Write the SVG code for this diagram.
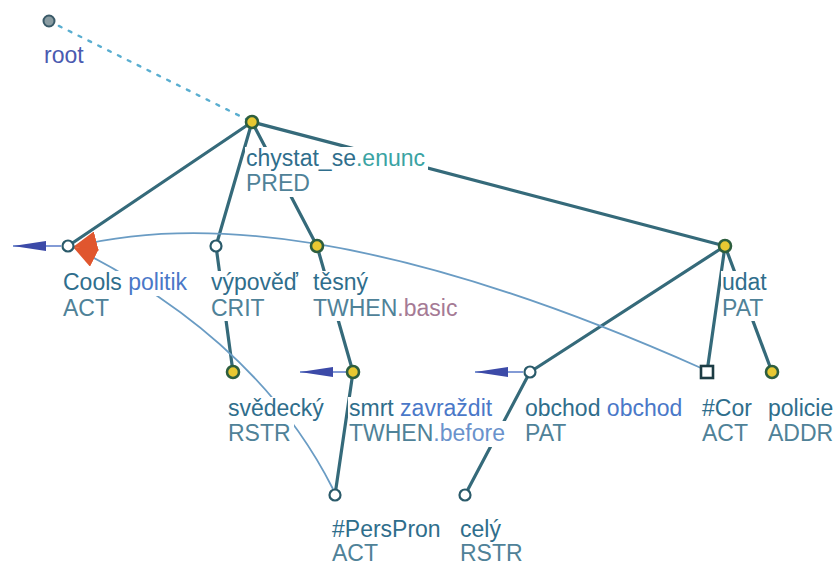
<svg xmlns="http://www.w3.org/2000/svg" width="836" height="567" viewBox="0 0 836 567">
<style>
text{font-family:"Liberation Sans",Arial,sans-serif;font-size:23px}
.n{fill:#2f6e8c}
.s{fill:#4a78c8}
.f{fill:#4f8298}
.e{fill:#3aa3a3}
.b{fill:#a57a95}
.bf{fill:#6a92cc}
.r{fill:#4a5ab0}
.bg{fill:#ffffff}
.edge{stroke:#356a7a;stroke-width:3.2;stroke-linecap:round;fill:none}
.coref{stroke:#6a9cc4;stroke-width:1.8;fill:none}
.prev{stroke:#5a7ac8;stroke-width:1.6;fill:none}
.yn{fill:#e8c832;stroke:#2d5e3e;stroke-width:2.6}
.wn{fill:#ffffff;stroke:#2a5a6a;stroke-width:2.2}
</style>
<defs>
<marker id="redarrow" markerUnits="userSpaceOnUse" markerWidth="24" markerHeight="20" viewBox="0 0 24 20" refX="24" refY="10" orient="auto-start-reverse">
<path d="M0,0 L24,10 L0,20 z" fill="#e0562e"/>
</marker>
<marker id="dart" markerUnits="userSpaceOnUse" markerWidth="33" markerHeight="10" viewBox="0 0 33 10" refX="33" refY="5" orient="auto">
<path d="M0,0 L33,5 L0,10 z" fill="#3c4aa8"/>
</marker>
</defs>
<g id="connectors">
<line x1="49" y1="21" x2="252" y2="122" stroke="#5aaed0" stroke-width="2.4" stroke-dasharray="3 8" stroke-linecap="round"/>
<line class="edge" x1="252" y1="122" x2="68" y2="246"/>
<line class="edge" x1="252" y1="122" x2="216" y2="246"/>
<line class="edge" x1="252" y1="122" x2="317" y2="246"/>
<line class="edge" x1="252" y1="122" x2="725" y2="246"/>
<line class="edge" x1="216" y1="246" x2="233" y2="372"/>
<line class="edge" x1="317" y1="246" x2="353" y2="372"/>
<line class="edge" x1="725" y1="246" x2="530" y2="372"/>
<line class="edge" x1="725" y1="246" x2="707" y2="372"/>
<line class="edge" x1="725" y1="246" x2="772" y2="372"/>
<line class="edge" x1="353" y1="372" x2="335" y2="495"/>
<line class="edge" x1="530" y1="372" x2="465" y2="495"/>
<path class="coref" d="M73,247 Q300,190 701,368" marker-start="url(#redarrow)"/>
<path class="coref" d="M73,247 Q257,339 333,489" marker-start="url(#redarrow)"/>
<line class="prev" x1="61" y1="246" x2="13" y2="246" marker-end="url(#dart)"/>
<line class="prev" x1="346" y1="372" x2="300" y2="372" marker-end="url(#dart)"/>
<line class="prev" x1="523" y1="372" x2="475" y2="372" marker-end="url(#dart)"/>
</g>
<g id="root">
<circle cx="49" cy="21" r="5.5" fill="#8a9ca2" stroke="#3a5a68" stroke-width="2"/>
<text x="44" y="63" class="r">root</text>
</g>
<g id="chystat_se">
<rect class="bg" x="245" y="147" width="183" height="25"/>
<rect class="bg" x="245" y="171" width="68" height="26"/>
<text x="246" y="166"><tspan class="n">chystat_se</tspan><tspan class="e">.enunc</tspan></text>
<text x="246" y="191" class="f">PRED</text>
<circle class="yn" cx="252" cy="122" r="6"/>
</g>
<g id="cools">
<rect class="bg" x="62" y="271" width="128" height="25"/>
<rect class="bg" x="62" y="295" width="50" height="26"/>
<text x="63" y="290"><tspan class="n">Cools</tspan> <tspan class="s">politik</tspan></text>
<text x="63" y="316" class="f">ACT</text>
<circle class="wn" cx="68" cy="246" r="5.5"/>
</g>
<g id="vypoved">
<rect class="bg" x="210" y="271" width="92" height="25"/>
<rect class="bg" x="210" y="295" width="58" height="26"/>
<text x="211" y="290" class="n">výpověď</text>
<text x="211" y="316" class="f">CRIT</text>
<circle class="wn" cx="216" cy="246" r="5.5"/>
</g>
<g id="tesny">
<rect class="bg" x="312" y="271" width="59" height="25"/>
<rect class="bg" x="312" y="295" width="148" height="26"/>
<text x="313" y="290" class="n">těsný</text>
<text x="313" y="316"><tspan class="f">TWHEN</tspan><tspan class="b">.basic</tspan></text>
<circle class="yn" cx="317" cy="246" r="6"/>
</g>
<g id="udat">
<rect class="bg" x="721" y="271" width="49" height="25"/>
<rect class="bg" x="721" y="295" width="49" height="26"/>
<text x="722" y="290" class="n">udat</text>
<text x="722" y="316" class="f">PAT</text>
<circle class="yn" cx="725" cy="246" r="6"/>
</g>
<g id="svedecky">
<rect class="bg" x="227" y="397" width="100" height="25"/>
<rect class="bg" x="227" y="421" width="67" height="26"/>
<text x="228" y="416" class="n">svědecký</text>
<text x="228" y="441" class="f">RSTR</text>
<circle class="yn" cx="233" cy="372" r="6"/>
</g>
<g id="smrt">
<rect class="bg" x="348" y="397" width="147" height="25"/>
<rect class="bg" x="348" y="421" width="160" height="26"/>
<text x="349" y="416"><tspan class="n">smrt</tspan> <tspan class="s">zavraždit</tspan></text>
<text x="349" y="441"><tspan class="f">TWHEN</tspan><tspan class="bf">.before</tspan></text>
<circle class="yn" cx="353" cy="372" r="6"/>
</g>
<g id="obchod">
<rect class="bg" x="524" y="397" width="161" height="25"/>
<rect class="bg" x="524" y="421" width="49" height="26"/>
<text x="525" y="416"><tspan class="n">obchod</tspan> <tspan class="s">obchod</tspan></text>
<text x="525" y="441" class="f">PAT</text>
<circle class="wn" cx="530" cy="372" r="5.5"/>
</g>
<g id="cor">
<rect class="bg" x="701" y="397" width="54" height="25"/>
<rect class="bg" x="701" y="421" width="50" height="26"/>
<text x="702" y="416" class="n">#Cor</text>
<text x="702" y="441" class="f">ACT</text>
<rect x="701" y="366" width="12" height="12" fill="#ffffff" stroke="#1c3c44" stroke-width="2.6"/>
</g>
<g id="policie">
<rect class="bg" x="767" y="397" width="69" height="25"/>
<rect class="bg" x="767" y="421" width="69" height="26"/>
<text x="768" y="416" class="n">policie</text>
<text x="768" y="441" class="f">ADDR</text>
<circle class="yn" cx="772" cy="372" r="6"/>
</g>
<g id="perspron">
<rect class="bg" x="331" y="518" width="113" height="25"/>
<rect class="bg" x="331" y="542" width="50" height="24"/>
<text x="332" y="537" class="n">#PersPron</text>
<text x="332" y="561" class="f">ACT</text>
<circle class="wn" cx="335" cy="495" r="5.5"/>
</g>
<g id="cely">
<rect class="bg" x="459" y="518" width="45" height="25"/>
<rect class="bg" x="459" y="542" width="67" height="24"/>
<text x="460" y="537" class="n">celý</text>
<text x="460" y="561" class="f">RSTR</text>
<circle class="wn" cx="465" cy="495" r="5.5"/>
</g>
</svg>
